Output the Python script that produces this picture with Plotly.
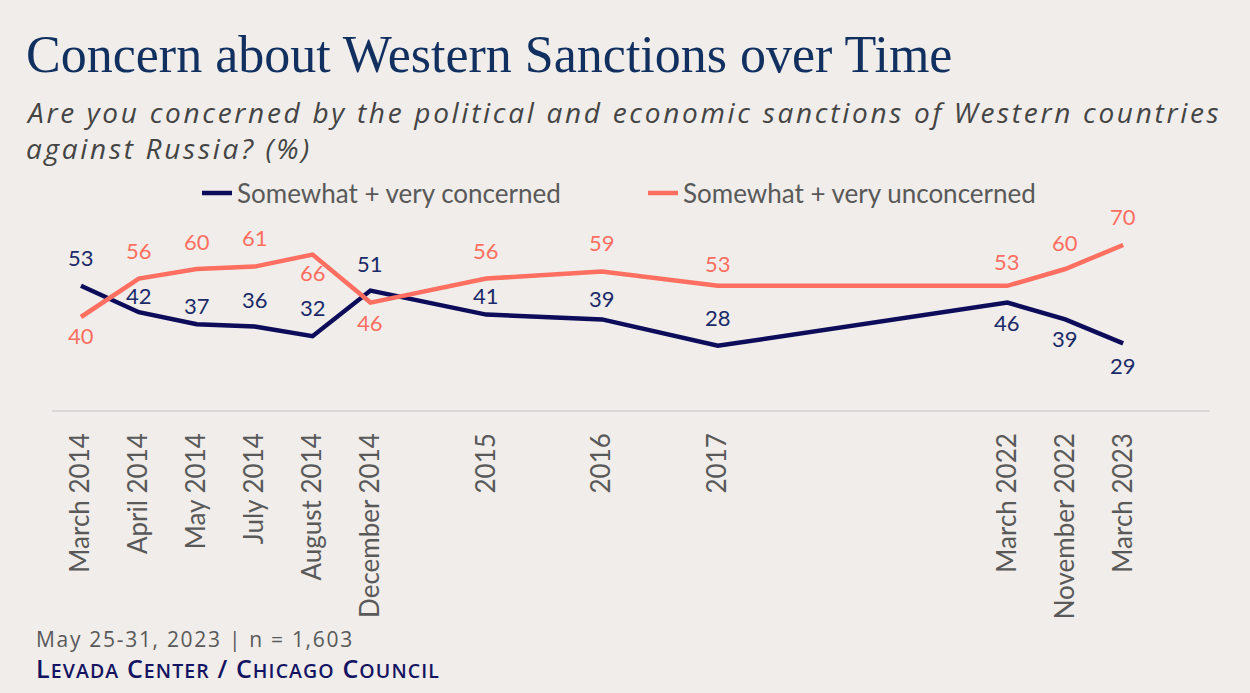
import plotly.graph_objects as go

# Survey waves and their slot on the 20-slot category axis (gaps are empty slots)
waves = ["March 2014", "April 2014", "May 2014", "July 2014", "August 2014",
         "December 2014", "2015", "2016", "2017", "March 2022",
         "November 2022", "March 2023"]
wave_slot = [0, 1, 2, 3, 4, 5, 7, 9, 11, 16, 17, 18]
n_slots = 20

concerned = [53, 42, 37, 36, 32, 51, 41, 39, 28, 46, 39, 29]
unconcerned = [40, 56, 60, 61, 66, 46, 56, 59, 53, 53, 60, 70]

series_names = ["Somewhat + very concerned", "Somewhat + very unconcerned"]

# Label offsets in pixels (negative = below the line)
concerned_shift = [28, 17, 19, 27, 29, 27, 19, 21, 28, -20, -19, -22]
unconcerned_shift = [-18, 28, 28, 29, -18, -20, 28, 29, 22, 24, 27, 29]

NAVY_LINE = "#0c0c5a"
NAVY_TEXT = "#1b2a68"
CORAL = "#ff6f61"
BG = "#f0edea"
GRAY = "#595959"

W, H = 1250, 693
L, R, T, B = 52, 40, 170, 283
PW, PH = W - L - R, H - T - B


def px_x(px):
    return (px - L) / PW


def px_y(py):
    return (H - B - py) / PH


def tracked(text, spacing):
    return f"<span style='letter-spacing:{spacing}px'>{text}</span>"


fig = go.Figure()
for name, vals, color in [(series_names[0], concerned, NAVY_LINE),
                          (series_names[1], unconcerned, CORAL)]:
    fig.add_trace(go.Scatter(
        x=wave_slot, y=vals, name=name, mode="lines",
        line=dict(color=color, width=4.5), hoverinfo="skip"))

annotations = []
for vals, shifts, color in [(concerned, concerned_shift, NAVY_TEXT),
                            (unconcerned, unconcerned_shift, CORAL)]:
    for s, v, sh in zip(wave_slot, vals, shifts):
        annotations.append(dict(
            x=s, y=v, xref="x", yref="y", text=str(v), showarrow=False,
            yshift=sh, font=dict(family="Lato", size=22, color=color)))

sc = "font-size:19.5px"
source_text = (f"L<span style='{sc}'>EVADA</span> "
               f"C<span style='{sc}'>ENTER</span> / "
               f"C<span style='{sc}'>HICAGO</span> "
               f"C<span style='{sc}'>OUNCIL</span>")

# Heading, question and source
annotations += [
    dict(x=px_x(24), y=px_y(55), xref="paper", yref="paper",
         xanchor="left", yanchor="middle", showarrow=False,
         text="Concern about Western Sanctions over Time",
         font=dict(family="Liberation Serif", size=52, color="#11305f")),
    dict(x=px_x(24), y=px_y(112), xref="paper", yref="paper",
         xanchor="left", yanchor="middle", showarrow=False,
         text="<i>" + tracked("Are you concerned by the political and economic "
                              "sanctions of Western countries", 2.7) + "</i>",
         font=dict(family="Open Sans", size=28, color="#444444")),
    dict(x=px_x(24), y=px_y(148), xref="paper", yref="paper",
         xanchor="left", yanchor="middle", showarrow=False,
         text="<i>" + tracked("against Russia? (%)", 2.7) + "</i>",
         font=dict(family="Open Sans", size=28, color="#444444")),
    dict(x=px_x(34), y=px_y(639), xref="paper", yref="paper",
         xanchor="left", yanchor="middle", showarrow=False,
         text=tracked("May 25-31, 2023 | n = 1,603", 1.7),
         font=dict(family="Open Sans", size=21, color=GRAY)),
    dict(x=px_x(34), y=px_y(668), xref="paper", yref="paper",
         xanchor="left", yanchor="middle", showarrow=False,
         text=tracked(source_text, 1.1),
         font=dict(family="Open Sans", size=25, color="#141463", weight=600)),
]

fig.update_layout(
    width=W, height=H,
    margin=dict(l=L, r=R, t=T, b=B),
    paper_bgcolor=BG, plot_bgcolor=BG,
    showlegend=True,
    legend=dict(orientation="h", x=px_x(197), y=px_y(193),
                xanchor="left", yanchor="middle",
                font=dict(family="Lato", size=26, color=GRAY),
                bgcolor="rgba(0,0,0,0)", entrywidth=401,
                entrywidthmode="pixels"),
    annotations=annotations,
    xaxis=dict(range=[-0.5, n_slots - 0.5], tickmode="array",
               tickvals=wave_slot, ticktext=waves, tickangle=-90,
               ticks="", ticklabelstandoff=11, showgrid=False,
               zeroline=False, showline=True, linecolor="#d9d9d9",
               linewidth=1.5,
               tickfont=dict(family="Lato", size=26, color=GRAY)),
    yaxis=dict(range=[1.25, 101.25], visible=False, showgrid=False),
)

fig.write_html("out.html")
